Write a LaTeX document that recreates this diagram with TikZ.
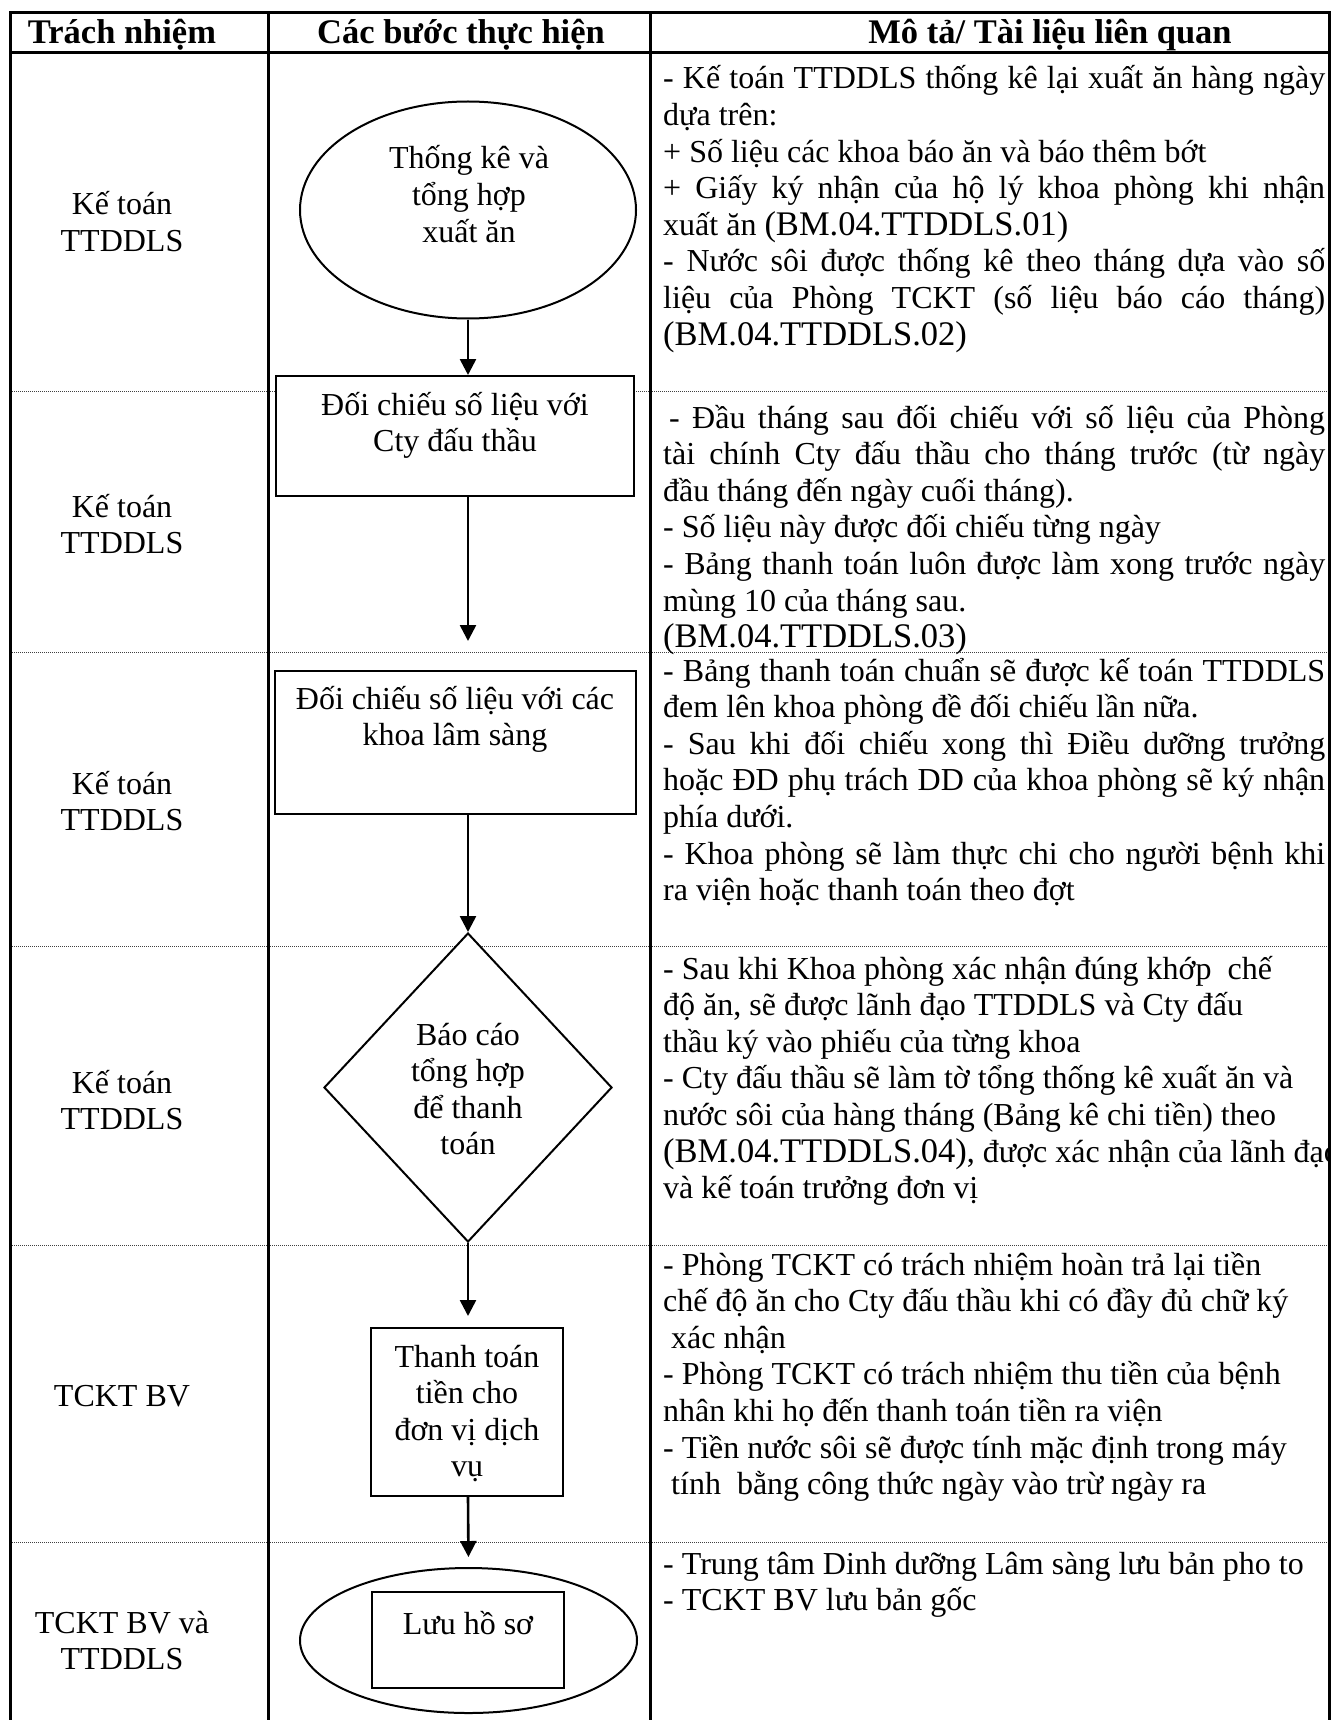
\documentclass[tikz,border=0pt]{standalone}
\usepackage{fontspec}
\setmainfont{Liberation Serif}
\usetikzlibrary{shapes.geometric,arrows.meta}
\newcommand\bodyfont{\fontsize{32}{36.6}\selectfont}
\newcommand\codefont{\fontsize{34.5}{36.6}\selectfont}
\newcommand\cd[1]{{\codefont #1}}
\newcommand\jl[1]{\makebox[\linewidth][s]{#1}}
\newcommand\rl[1]{\makebox[\linewidth][l]{#1}}
\newcommand\cbox[2][250pt]{\parbox[t]{#1}{\bodyfont\centering #2}}
\newcommand\rbox[1]{\parbox[t]{662pt}{\bodyfont #1}}
\begin{document}
\begin{tikzpicture}[x=1pt,y=-1pt,
  tbl/.style={line width=3pt},
  rowsep/.style={line width=1pt, black!75, dash pattern=on 1pt off 1pt},
  shp/.style={draw, line width=2pt, fill=white, inner sep=0pt},
  flow/.style={line width=2.6pt, -{Triangle[width=16pt,length=16pt]}},
  txt/.style={inner sep=0pt, font=\bodyfont},
  hd/.style={inner sep=0pt, font=\fontsize{34.5}{40}\selectfont\bfseries, anchor=base}]

\useasboundingbox (0,0) rectangle (1334,1720);

% row separators
\foreach \yy in {391,652,946,1245,1542} \draw[rowsep] (10,\yy) -- (1329,\yy);

% table frame
\draw[tbl] (10,1720) -- (10,13) -- (1329,13) -- (1329,1720);
\draw[tbl] (10,53) -- (1329,53);
\draw[tbl] (268,13) -- (268,1720);
\draw[tbl] (650,13) -- (650,1720);

% header
\node[hd] (h1) at (122,44) {Trách nhiệm};
\node[hd] (h2) at (461,44) {Các bước thực hiện};
\node[hd] (h3) at (1050,44) {Mô tả/ Tài liệu liên quan};

% responsibility column
\node[txt, anchor=base] (l1) at (122,215) {\cbox{Kế toán\\TTDDLS}};
\node[txt, anchor=base] (l2) at (122,517) {\cbox{Kế toán\\TTDDLS}};
\node[txt, anchor=base] (l3) at (122,794) {\cbox{Kế toán\\TTDDLS}};
\node[txt, anchor=base] (l4) at (122,1093) {\cbox{Kế toán\\TTDDLS}};
\node[txt, anchor=base] (l5) at (122,1406) {\cbox{TCKT BV}};
\node[txt, anchor=base] (l6) at (122,1633) {\cbox{TCKT BV và\\TTDDLS}};

% flow shapes
\node[shp, ellipse, minimum width=336pt, minimum height=217pt] (e1) at (468,210) {};
\node[shp, rectangle, minimum width=358pt, minimum height=120pt] (b2) at (455,436) {};
\node[shp, rectangle, minimum width=361pt, minimum height=143pt] (b3) at (455.5,742.5) {};
\node[shp, diamond, minimum width=288pt, minimum height=309pt] (d4) at (468,1087.5) {};
\node[shp, rectangle, minimum width=192pt, minimum height=168pt] (b5) at (467,1412) {};
\node[shp, ellipse, minimum width=337pt, minimum height=145pt] (e6) at (468.5,1640.5) {};
\node[shp, rectangle, minimum width=192pt, minimum height=96pt] (b6) at (468,1640) {};

% shape texts
\node[txt, anchor=base] (t1) at (469,169) {\cbox[340pt]{Thống kê và\\tổng hợp\\xuất ăn}};
\node[txt, anchor=base] (t2) at (455,415) {\cbox[340pt]{Đối chiếu số liệu với\\Cty đấu thầu}};
\node[txt, anchor=base] (t3) at (455,709) {\cbox[340pt]{Đối chiếu số liệu với các\\khoa lâm sàng}};
\node[txt, anchor=base] (t4) at (468,1045) {\cbox[340pt]{Báo cáo\\tổng hợp\\để thanh\\toán}};
\node[txt, anchor=base] (t5) at (467,1367) {\cbox[340pt]{Thanh toán\\tiền cho\\đơn vị dịch\\vụ}};
\node[txt, anchor=base] (t6) at (468,1634) {\cbox[340pt]{Lưu hồ sơ}};

% connectors
\draw[flow] (e1.south) -- (b2.north -| e1.south);
\draw[flow, shorten >=29pt] (b2.south -| e1.south) -- (b3.north -| e1.south);
\draw[flow] (b3.south -| d4.north) -- (d4.north);
\draw[flow, shorten >=11pt] (d4.south) -- (b5.north -| d4.south);
\draw[flow, shorten >=10pt] (b5.south -| d4.south) -- (e6.north);

% description column
\begin{scope}
\clip (651.5,14) rectangle (1327.5,1720);
\node[txt, anchor=base west] (r1) at (663,89) {\rbox{%
\jl{- Kế toán TTDDLS thống kê lại xuất ăn hàng ngày}\\
\rl{dựa trên:}\\
\rl{+ Số liệu các khoa báo ăn và báo thêm bớt}\\
\jl{+ Giấy ký nhận của hộ lý khoa phòng khi nhận}\\
\rl{xuất ăn \cd{(BM.04.TTDDLS.01)}}\\
\jl{- Nước sôi được thống kê theo tháng dựa vào số}\\
\jl{liệu của Phòng TCKT (số liệu báo cáo tháng)}\\
\rl{\cd{(BM.04.TTDDLS.02)}}}};

\node[txt, anchor=base west] (r2) at (663,428) {\rbox{%
\jl{\hspace*{6pt}- Đầu tháng sau đối chiếu với số liệu của Phòng}\\
\jl{tài chính Cty đấu thầu cho tháng trước (từ ngày}\\
\rl{đầu tháng đến ngày cuối tháng).}\\
\rl{- Số liệu này được đối chiếu từng ngày}\\
\jl{- Bảng thanh toán luôn được làm xong trước ngày}\\
\rl{mùng 10 của tháng sau.}\\
\rl{\cd{(BM.04.TTDDLS.03)}}}};

\node[txt, anchor=base west] (r3) at (663,681) {\rbox{%
\jl{- Bảng thanh toán chuẩn sẽ được kế toán TTDDLS}\\
\rl{đem lên khoa phòng đề đối chiếu lần nữa.}\\
\jl{-\hspace{14pt}Sau khi đối chiếu xong thì Điều dưỡng trưởng}\\
\jl{hoặc ĐD phụ trách DD của khoa phòng sẽ ký nhận}\\
\rl{phía dưới.}\\
\jl{- Khoa phòng sẽ làm thực chi cho người bệnh khi}\\
\rl{ra viện hoặc thanh toán theo đợt}}};

\node[txt, anchor=base west] (r4) at (663,979) {\rbox{%
\rl{- Sau khi Khoa phòng xác nhận đúng khớp\ \ chế}\\
\rl{độ ăn, sẽ được lãnh đạo TTDDLS và Cty đấu}\\
\rl{thầu ký vào phiếu của từng khoa}\\
\rl{- Cty đấu thầu sẽ làm tờ tổng thống kê xuất ăn và}\\
\rl{nước sôi của hàng tháng (Bảng kê chi tiền) theo}\\
\rl{\cd{(BM.04.TTDDLS.04)}, được xác nhận của lãnh đạo}\\
\rl{và kế toán trưởng đơn vị}}};

\node[txt, anchor=base west] (r5) at (663,1275) {\rbox{%
\rl{- Phòng TCKT có trách nhiệm hoàn trả lại tiền}\\
\rl{chế độ ăn cho Cty đấu thầu khi có đầy đủ chữ ký}\\
\rl{\hspace*{8pt}xác nhận}\\
\rl{- Phòng TCKT có trách nhiệm thu tiền của bệnh}\\
\rl{nhân khi họ đến thanh toán tiền ra viện}\\
\rl{- Tiền nước sôi sẽ được tính mặc định trong máy}\\
\rl{\hspace*{8pt}tính\ \ bằng công thức ngày vào trừ ngày ra}}};

\node[txt, anchor=base west] (r6) at (663,1574) {\rbox{%
\rl{- Trung tâm Dinh dưỡng Lâm sàng lưu bản pho to}\\
\rl{- TCKT BV lưu bản gốc}}};
\end{scope}
\end{tikzpicture}
\end{document}
